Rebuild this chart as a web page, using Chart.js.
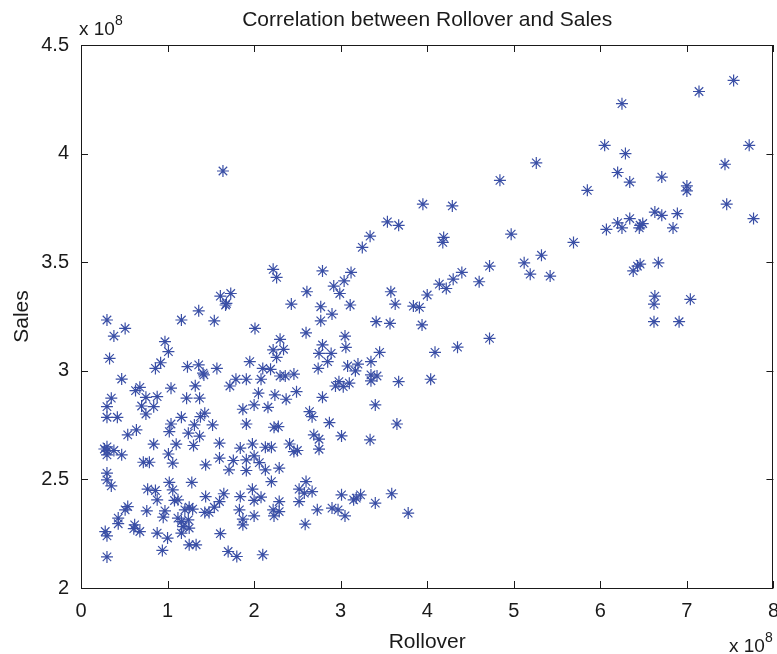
<!DOCTYPE html>
<html>
<head>
<meta charset="utf-8">
<script src="https://cdn.jsdelivr.net/npm/chart.js@4.4.1/dist/chart.umd.min.js"></script>
<style>
  html, body { margin: 0; padding: 0; background: #fff; overflow: hidden; }
  /* a little wider than the window: Chart.js keeps room for half of the "8" label */
  #wrap { width: 782px; height: 654px; position: relative; }
</style>
</head>
<body>
<div id="wrap"><canvas id="c"></canvas></div>
<script>
// values in units of 1e8 (the axes carry the "x 10^8" exponent)
const rollover = [
  0.30, 0.51, 0.38, 1.16, 1.36, 0.97, 1.01, 0.33, 0.92, 0.86,
  0.47, 1.23, 1.36, 1.41, 1.32, 1.04, 0.68, 0.63, 0.75, 0.88,
  0.35, 0.30, 0.70, 0.84, 0.75, 1.22, 1.37, 0.30, 0.42, 1.16,
  1.04, 1.31, 1.38, 1.02, 1.24, 0.54, 0.64,
  0.30, 0.30, 0.30, 0.27, 0.38, 0.47, 0.84, 1.10, 1.30, 1.01,
  0.72, 0.79, 1.06, 0.30, 0.30, 0.35, 0.77, 0.86, 0.88, 1.02,
  1.06, 1.08, 1.12, 1.28, 1.25, 1.29, 1.20, 0.54, 0.51, 0.76,
  0.97, 0.95, 0.43, 0.43, 0.62, 0.61, 0.68, 0.28, 0.30, 0.88,
  1.00, 1.12, 1.16, 1.24, 1.18, 1.25, 1.16, 1.25, 1.33, 0.94, 0.30,
  1.67, 1.54, 2.01, 2.43, 2.77, 2.77, 2.60, 2.30, 2.22, 2.34,
  2.26, 2.75, 2.79, 2.74, 1.95, 1.42, 1.57, 2.10, 2.19, 1.79,
  1.91, 2.08, 2.30, 2.36, 2.46, 1.72, 2.05, 2.24, 2.37, 2.49,
  2.00, 1.87, 2.16, 2.79, 2.64, 2.67, 1.43, 1.52, 1.91, 2.23,
  2.28, 2.69, 1.37,
  1.60, 1.84, 1.98, 2.13, 2.20, 2.41, 2.46, 2.50, 2.75, 2.75,
  1.44, 1.60, 1.76, 1.91, 2.00, 2.06, 1.71, 1.91, 2.13, 2.29,
  2.20, 2.60, 1.98, 2.52, 2.58, 2.67, 1.65, 1.44, 1.60, 1.54,
  1.84, 2.08, 2.00, 2.29, 2.52, 1.43, 1.48, 1.83, 2.22, 2.29,
  2.23, 2.00, 1.87, 1.87, 2.73, 2.59, 1.61, 1.70, 1.80, 2.10,
  3.11, 2.90, 3.63, 3.84, 3.91, 3.41, 3.57, 3.94, 3.05, 3.06,
  2.89, 2.85, 3.08, 3.20, 3.17, 3.35, 3.35, 3.42, 3.35, 3.45,
  4.09, 2.98, 3.03, 3.10, 2.94, 3.67, 4.04, 3.40, 2.87, 3.65,
  3.01, 3.34,
  3.01, 2.90, 2.97, 3.05, 3.15, 3.18, 3.23, 3.40, 3.59, 3.78,
  1.64, 2.22, 1.61, 1.73, 1.68,
  2.26, 2.79, 3.12, 3.04, 2.92, 2.99, 2.61, 3.25, 3.34, 3.54,
  3.67, 3.95, 4.29, 4.19, 4.18, 3.58, 4.00, 4.14, 4.22, 4.30, 4.40,
  6.05, 5.26, 4.84, 5.85, 6.07, 4.97, 5.69, 5.32, 5.12, 5.19,
  5.42, 4.72, 4.60, 4.72, 4.35,
  7.54, 7.14, 6.25, 7.72, 6.29, 7.44, 6.20, 6.34, 6.71, 7.00,
  7.00, 7.46, 7.77, 6.63, 6.71, 6.89, 6.34, 6.20, 6.25, 6.46,
  6.49, 6.45, 6.84, 6.67, 6.46, 6.43, 6.38, 6.63, 6.62, 7.04,
  6.62, 6.91
];
const sales = [
  3.234, 3.195, 3.160, 3.234, 3.276, 3.134, 3.088, 3.057, 3.037, 3.011,
  2.962, 3.019, 3.027, 2.989, 2.931, 2.920, 2.924, 2.909, 2.878, 2.881,
  2.874, 2.835, 2.838, 2.835, 2.801, 2.874, 2.874, 2.786, 2.786, 2.786,
  2.755, 2.751, 2.789, 2.720, 2.713, 2.705, 2.728,
  2.650, 2.631, 2.613, 2.640, 2.633, 2.613, 2.662, 2.662, 2.656, 2.617,
  2.579, 2.579, 2.575, 2.529, 2.498, 2.470, 2.455, 2.449, 2.406, 2.486,
  2.452, 2.403, 2.406, 2.486, 2.372, 2.363, 2.360, 2.375, 2.360, 2.355,
  2.355, 2.326, 2.322, 2.296, 2.291, 2.273, 2.260, 2.260, 2.240, 2.253,
  2.230, 2.322, 2.306, 2.314, 2.283, 2.276, 2.253, 2.199, 2.199, 2.173, 2.143,
  3.303, 3.230, 3.195, 3.307, 3.295, 3.230, 3.175, 3.145, 3.096, 3.099,
  3.062, 3.080, 3.119, 3.011, 3.042, 2.981, 3.011, 3.011, 3.007, 2.961,
  2.961, 2.961, 2.976, 2.976, 2.985, 2.930, 2.897, 2.889, 2.869, 2.904,
  2.843, 2.823, 2.832, 2.878, 2.812, 2.789, 2.805, 2.751, 2.755, 2.740,
  2.743, 2.705, 2.699,
  2.667, 2.644, 2.663, 2.648, 2.648, 2.663, 2.628, 2.633, 2.685, 2.639,
  2.567, 2.598, 2.587, 2.590, 2.608, 2.577, 2.544, 2.541, 2.544, 2.552,
  2.490, 2.490, 2.455, 2.455, 2.437, 2.444, 2.434, 2.421, 2.398, 2.372,
  2.421, 2.418, 2.403, 2.398, 2.398, 2.348, 2.348, 2.360, 2.360, 2.352,
  2.332, 2.332, 2.317, 2.291, 2.360, 2.294, 2.250, 2.168, 2.145, 2.153,
  3.303, 3.261, 3.307, 3.298, 3.292, 3.226, 3.218, 3.211, 3.160, 3.108,
  3.080, 3.042, 3.022, 3.031, 3.000, 3.042, 2.981, 2.976, 2.954, 3.085,
  3.085, 2.950, 2.927, 2.943, 2.930, 2.950, 2.961, 2.843, 2.761, 2.755,
  2.700, 2.682,
  2.429, 2.368, 2.360, 2.332, 2.406, 2.414, 2.429, 2.391, 2.434, 2.345,
  3.920, 3.467, 3.344, 3.356, 3.310,
  3.430, 3.460, 3.453, 3.414, 3.390, 3.356, 3.364, 3.568, 3.620, 3.686,
  3.670, 3.767, 3.759, 3.614, 3.591, 3.364, 3.349, 3.399, 3.379, 3.422, 3.453,
  4.038, 3.957, 3.877, 3.831, 3.651, 3.629, 3.591, 3.532, 3.497, 3.445,
  3.436, 3.482, 3.410, 3.149, 3.109,
  4.337, 4.286, 4.230, 4.038, 4.000, 3.951, 3.913, 3.869, 3.892, 3.851,
  3.828, 3.767, 3.701, 3.731, 3.716, 3.724, 3.701, 3.681, 3.658, 3.670,
  3.678, 3.658, 3.658, 3.497, 3.491, 3.482, 3.460, 3.344, 3.307, 3.329,
  3.226, 3.226
];
const xTicks = [0, 1, 2, 3, 4, 5, 6, 7, 8];
const yTicks = [2, 2.5, 3, 3.5, 4, 4.5];

const INK = "#1a1a1a";
const MARK = "#3a4fa6";
const FONT = "'Liberation Sans', Arial, Helvetica, sans-serif";

// MATLAB-style box, inward ticks and the loose texts
const boxPlugin = {
  id: "box",
  afterDraw(chart) {
    const { ctx, chartArea: a, scales: { x, y } } = chart;
    ctx.save();
    ctx.strokeStyle = INK;
    ctx.lineWidth = 1;
    ctx.strokeRect(Math.round(a.left) + 0.5, Math.round(a.top) + 0.5,
      Math.round(a.right - a.left) - 1, Math.round(a.bottom - a.top));
    const tl = 7;
    ctx.beginPath();
    xTicks.forEach(v => {
      const px = Math.round(x.getPixelForValue(v)) + 0.5;
      ctx.moveTo(px, a.bottom); ctx.lineTo(px, a.bottom - tl);
      ctx.moveTo(px, a.top); ctx.lineTo(px, a.top + tl);
    });
    yTicks.forEach(v => {
      const py = Math.round(y.getPixelForValue(v)) + 0.5;
      ctx.moveTo(a.left, py); ctx.lineTo(a.left + tl, py);
      ctx.moveTo(a.right, py); ctx.lineTo(a.right - tl, py);
    });
    ctx.stroke();

    ctx.fillStyle = INK;
    ctx.textBaseline = "alphabetic";
    // title
    ctx.font = "21px " + FONT;
    ctx.textAlign = "center";
    ctx.fillText("Correlation between Rollover and Sales", (a.left + a.right) / 2, 26);
    // axis titles
    ctx.fillText("Rollover", (a.left + a.right) / 2, 648);
    ctx.save();
    ctx.translate(28, (a.top + a.bottom) / 2);
    ctx.rotate(-Math.PI / 2);
    ctx.fillText("Sales", 0, 0);
    ctx.restore();
    // exponent labels
    ctx.textAlign = "left";
    ctx.font = "19px " + FONT;
    ctx.fillText("x 10", 79, 35);
    ctx.fillText("x 10", 729, 652);
    ctx.font = "14px " + FONT;
    ctx.fillText("8", 115, 25);
    ctx.fillText("8", 765, 642);
    ctx.restore();
  }
};

new Chart(document.getElementById("c"), {
  type: "scatter",
  data: {
    datasets: [{
      data: rollover.map((v, i) => ({ x: v, y: sales[i] })),
      pointStyle: "star",
      radius: 6,
      borderColor: MARK,
      borderWidth: 1.2,
      backgroundColor: "transparent",
    }],
  },
  options: {
    responsive: true, maintainAspectRatio: false, animation: false,
    layout: { padding: { top: 45, right: 1, left: 0, bottom: 0 } },
    plugins: { legend: { display: false }, tooltip: { enabled: false } },
    scales: {
      x: {
        type: "linear", min: 0, max: 8,
        afterFit: (s) => { s.height = 66; },
        afterBuildTicks: (s) => { s.ticks = xTicks.map(v => ({ value: v })); },
        grid: { display: false }, border: { display: false },
        ticks: { color: INK, padding: 3, font: { size: 20, family: FONT }, callback: (v) => String(v) },
      },
      y: {
        min: 2, max: 4.5,
        afterFit: (s) => { s.width = 81; },
        afterBuildTicks: (s) => { s.ticks = yTicks.map(v => ({ value: v })); },
        grid: { display: false }, border: { display: false },
        ticks: { color: INK, padding: 4, font: { size: 20, family: FONT }, callback: (v) => String(v) },
      },
    },
  },
  plugins: [boxPlugin],
});
</script>
</body>
</html>
